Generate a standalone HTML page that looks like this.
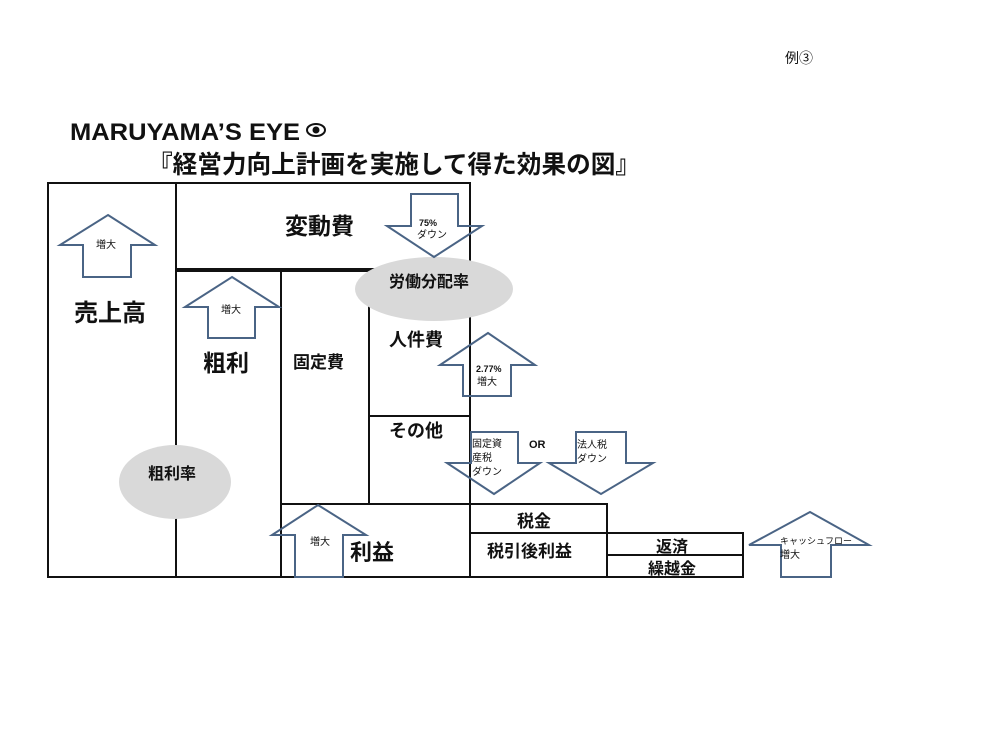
<!DOCTYPE html>
<html><head><meta charset="utf-8"><style>
html,body{margin:0;padding:0;background:#fff;}
svg{display:block;}
text{font-family:"Liberation Sans","Noto Sans CJK JP",sans-serif;fill:#111;}
</style></head><body>
<svg width="1000" height="750" viewBox="0 0 1000 750" xmlns="http://www.w3.org/2000/svg">
<text x="785" y="63" font-size="14">例③</text>
<text x="70" y="140" font-size="24" font-weight="bold" textLength="230" lengthAdjust="spacingAndGlyphs">MARUYAMA’S EYE</text>
<g transform="translate(316,130)"><ellipse cx="0" cy="0" rx="9" ry="6" fill="#fff" stroke="#111" stroke-width="2"/><circle cx="0" cy="0" r="3.5" fill="#111"/></g>
<text x="148" y="173" font-size="25" font-weight="bold" textLength="492" lengthAdjust="spacingAndGlyphs">『経営力向上計画を実施して得た効果の図』</text>

<g fill="none" stroke="#111" stroke-width="2">
<rect x="48" y="183" width="422" height="394"/>
<line x1="176" y1="183" x2="176" y2="577"/>
<line x1="281" y1="270" x2="281" y2="577"/>
<line x1="369" y1="270" x2="369" y2="504"/>
<line x1="369" y1="416" x2="470" y2="416"/>
<line x1="281" y1="504" x2="470" y2="504"/>
<rect x="470" y="504" width="137" height="73"/>
<line x1="470" y1="533" x2="607" y2="533"/>
<rect x="607" y="533" width="136" height="44"/>
<line x1="607" y1="555" x2="743" y2="555"/>
</g>
<line x1="176" y1="270" x2="380" y2="270" stroke="#111" stroke-width="4"/>

<ellipse cx="434" cy="289" rx="79" ry="32" fill="#d9d9d9"/>
<ellipse cx="175" cy="482" rx="56" ry="37" fill="#d9d9d9"/>

<g fill="none" stroke="#4a6485" stroke-width="2" stroke-linejoin="miter">
<polygon points="108,215 155,245 131,245 131,277 83,277 83,245 60,245"/>
<polygon points="232,277 279,307 255,307 255,338 208,338 208,307 185,307"/>
<polygon points="411,194 458,194 458,226 482,226 434,257 387,226 411,226"/>
<polygon points="488,333 535,365 511,365 511,396 463,396 463,365 440,365"/>
<polygon points="471,432 518,432 518,463 540,463 494,494 447,463 471,463"/>
<polygon points="576,432 626,432 626,463 653,463 601,494 549,463 576,463"/>
<polygon points="318,505 366,535 343,535 343,577 295,577 295,535 272,535"/>
<polygon points="810,512 869,545 831,545 831,577 781,577 781,545 749,545"/>
</g>

<g font-weight="bold">
<text x="285" y="234" font-size="23">変動費</text>
<text x="74" y="321" font-size="24">売上高</text>
<text x="203" y="371" font-size="23">粗利</text>
<text x="293" y="368" font-size="17">固定費</text>
<text x="389" y="287" font-size="16">労働分配率</text>
<text x="389" y="346" font-size="18">人件費</text>
<text x="389" y="437" font-size="18">その他</text>
<text x="148" y="479" font-size="16">粗利率</text>
<text x="350" y="560" font-size="22">利益</text>
<text x="517" y="527" font-size="17">税金</text>
<text x="487" y="557" font-size="17">税引後利益</text>
<text x="656" y="552" font-size="16">返済</text>
<text x="648" y="574" font-size="16">繰越金</text>
<text x="529" y="448" font-size="11">OR</text>
<text x="419" y="226" font-size="9">75%</text>
<text x="476" y="372" font-size="9">2.77%</text>
</g>
<g font-size="10">
<text x="96" y="248">増大</text>
<text x="221" y="313">増大</text>
<text x="417" y="238">ダウン</text>
<text x="477" y="385">増大</text>
<text x="310" y="545">増大</text>
<text x="472" y="447">固定資</text>
<text x="472" y="461">産税</text>
<text x="472" y="475">ダウン</text>
<text x="577" y="448">法人税</text>
<text x="577" y="462">ダウン</text>
<text x="780" y="544" font-size="9">キャッシュフロー</text>
<text x="780" y="558">増大</text>
</g>
</svg>
</body></html>
